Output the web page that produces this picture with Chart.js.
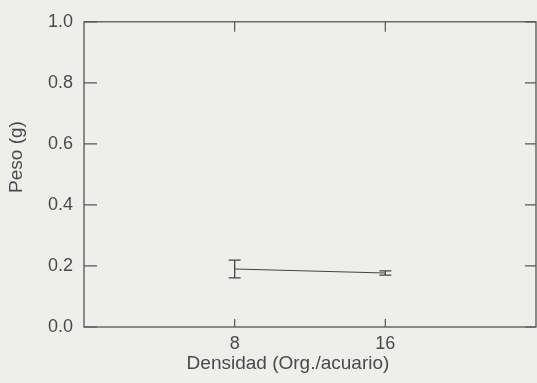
<!DOCTYPE html>
<html>
<head>
<meta charset="utf-8">
<script src="https://cdn.jsdelivr.net/npm/chart.js@4"></script>
<style>
  html, body { margin: 0; padding: 0; background: #eeeeec; }
  #pesoChart { display: block; }
</style>
</head>
<body>
<canvas id="pesoChart" width="537" height="383"></canvas>
<script>
// densidad de organismos por acuario y peso medio (g) con su error
const densidad = [8, 16];
const peso = [0.19, 0.177];
const errorPeso = [0.029, 0.007];
const xTicks = [8, 16];
const yTicks = [0, 0.2, 0.4, 0.6, 0.8, 1.0];

const FONT = '"Liberation Sans", Arial, sans-serif';
const INK = '#4a4a4a';

// marco, marcas interiores, barras de error y titulos de los ejes
const marcoPlugin = {
  id: 'marco',
  afterDatasetsDraw(chart) {
    const { ctx, chartArea: a, scales: { x, y } } = chart;
    ctx.save();
    ctx.strokeStyle = '#555';
    ctx.lineWidth = 1.3;
    ctx.strokeRect(a.left, a.top, a.right - a.left, a.bottom - a.top);

    ctx.lineWidth = 1.2;
    ctx.beginPath();
    yTicks.forEach(v => {
      const py = y.getPixelForValue(v);
      ctx.moveTo(a.left, py); ctx.lineTo(a.left + 13, py);
      ctx.moveTo(a.right, py); ctx.lineTo(a.right - 11, py);
    });
    xTicks.forEach(v => {
      const px = x.getPixelForValue(v);
      ctx.moveTo(px, a.top); ctx.lineTo(px, a.top + 10);
      ctx.moveTo(px, a.bottom); ctx.lineTo(px, a.bottom - 8);
    });
    ctx.stroke();

    // barras de error
    ctx.strokeStyle = '#444';
    ctx.lineWidth = 1.3;
    ctx.beginPath();
    densidad.forEach((d, i) => {
      const px = x.getPixelForValue(d);
      const top = y.getPixelForValue(peso[i] + errorPeso[i]);
      const bot = y.getPixelForValue(peso[i] - errorPeso[i]);
      ctx.moveTo(px, top); ctx.lineTo(px, bot);
      ctx.moveTo(px - 6, top); ctx.lineTo(px + 6, top);
      ctx.moveTo(px - 6, bot); ctx.lineTo(px + 6, bot);
    });
    ctx.stroke();

    // titulos
    ctx.fillStyle = INK;
    ctx.font = '19px ' + FONT;
    ctx.textAlign = 'center';
    ctx.textBaseline = 'middle';
    ctx.fillText('Densidad (Org./acuario)', 288, 364);
    ctx.translate(17, 157);
    ctx.rotate(-Math.PI / 2);
    ctx.fillText('Peso (g)', 0, 0);
    ctx.restore();
  }
};

new Chart(document.getElementById('pesoChart'), {
  type: 'scatter',
  data: {
    datasets: [{
      label: 'Peso',
      data: densidad.map((d, i) => ({ x: d, y: peso[i] })),
      showLine: true,
      borderColor: '#444',
      borderWidth: 1.2,
      pointRadius: 0
    }]
  },
  options: {
    responsive: false,
    animation: false,
    layout: { padding: { top: 18, right: 1, left: 0, bottom: 0 } },
    plugins: {
      legend: { display: false },
      tooltip: { enabled: false }
    },
    scales: {
      x: {
        type: 'linear',
        min: 0,
        max: 24,
        afterBuildTicks: scale => { scale.ticks = xTicks.map(v => ({ value: v })); },
        afterFit: scale => { scale.height = 56; },
        grid: { display: false, drawTicks: false },
        border: { display: false },
        ticks: {
          padding: 6,
          color: INK,
          font: { family: FONT, size: 18 }
        }
      },
      y: {
        min: 0,
        max: 1,
        afterBuildTicks: scale => { scale.ticks = yTicks.map(v => ({ value: v })); },
        afterFit: scale => { scale.width = 84; },
        grid: { display: false, drawTicks: false },
        border: { display: false },
        ticks: {
          padding: 11,
          color: INK,
          font: { family: FONT, size: 18 },
          callback: v => v.toFixed(1)
        }
      }
    }
  },
  plugins: [marcoPlugin]
});
</script>
</body>
</html>
